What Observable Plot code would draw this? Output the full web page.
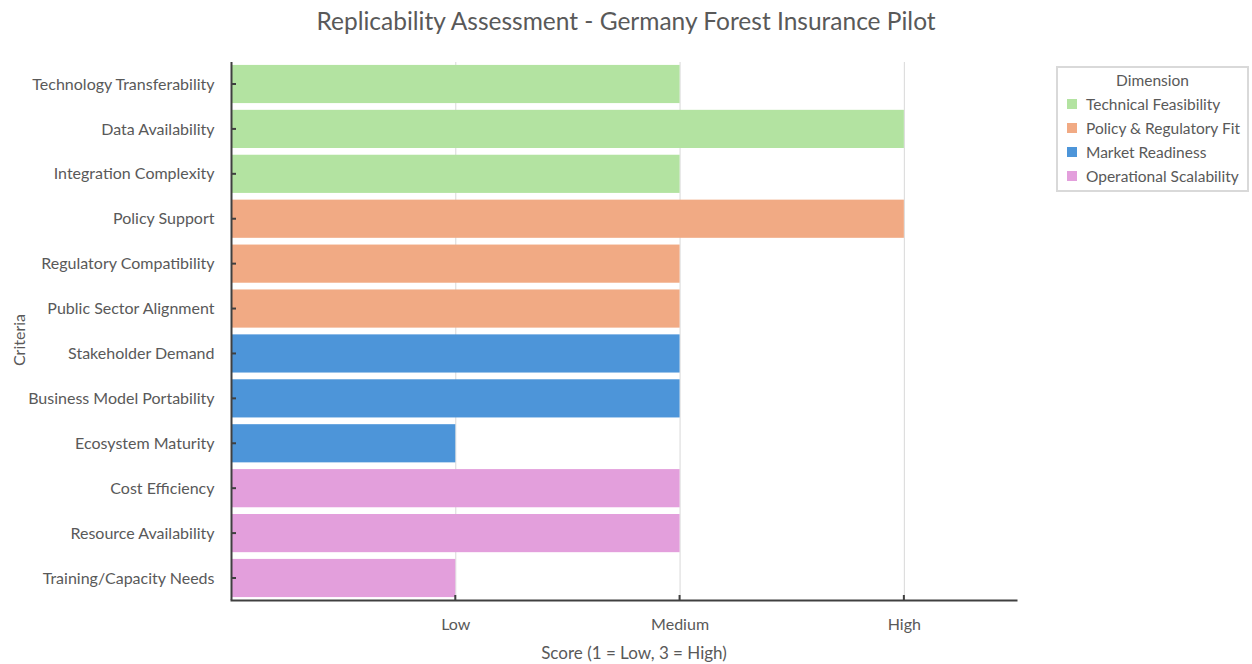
<!DOCTYPE html>
<html>
<head>
<meta charset="utf-8">
<script src="https://cdn.jsdelivr.net/npm/d3@7"></script>
<script src="https://cdn.jsdelivr.net/npm/@observablehq/plot@0.6"></script>
<style>
  html, body { margin: 0; padding: 0; background: #fff; }
  #wrap { position: relative; width: 1252px; height: 664px; font-family: Lato, "Open Sans", sans-serif; color: #595959; }
  #title { position: absolute; left: 0; top: 6px; width: 1252px; text-align: center; font-size: 24.5px; }
  #ylabel { position: absolute; left: 18px; top: 340px; transform: translate(-50%, -50%) rotate(-90deg); font-size: 16px; white-space: nowrap; }
  #xlabel { position: absolute; left: 634px; top: 642px; transform: translateX(-50%); font-size: 17px; white-space: nowrap; }
  #legend { position: absolute; left: 1056px; top: 66px; width: 189px; height: 122px; border: 2px solid #d9d9d9; font-size: 15.5px; }
  #legend .lt { text-align: center; margin-top: 3px; margin-bottom: 3px; }
  #legend .it { display: flex; align-items: center; height: 24px; padding-left: 9px; white-space: nowrap; }
  #legend .sw { width: 10px; height: 10px; margin-right: 9px; flex: none; }
  #chart { position: absolute; left: 0; top: 0; }
</style>
</head>
<body>
<div id="wrap">
  <div id="chart"></div>
  <div id="title">Replicability Assessment - Germany Forest Insurance Pilot</div>
  <div id="ylabel">Criteria</div>
  <div id="xlabel">Score (1 = Low, 3 = High)</div>
  <div id="legend"></div>
</div>
<script>
// Criteria, top to bottom
const criteria = [
  "Technology Transferability",
  "Data Availability",
  "Integration Complexity",
  "Policy Support",
  "Regulatory Compatibility",
  "Public Sector Alignment",
  "Stakeholder Demand",
  "Business Model Portability",
  "Ecosystem Maturity",
  "Cost Efficiency",
  "Resource Availability",
  "Training/Capacity Needs"
];
// Score per criterion (1 = Low, 2 = Medium, 3 = High)
const scores = [2, 3, 2, 3, 2, 2, 2, 2, 1, 2, 2, 1];
// Dimension each criterion belongs to
const dimensionOf = [
  "Technical Feasibility", "Technical Feasibility", "Technical Feasibility",
  "Policy & Regulatory Fit", "Policy & Regulatory Fit", "Policy & Regulatory Fit",
  "Market Readiness", "Market Readiness", "Market Readiness",
  "Operational Scalability", "Operational Scalability", "Operational Scalability"
];
const dimensions = ["Technical Feasibility", "Policy & Regulatory Fit", "Market Readiness", "Operational Scalability"];
const dimensionColors = ["#b3e3a1", "#f1aa84", "#4d95d9", "#e39fdc"];
const tickValues = [1, 2, 3];
const tickLabels = ["Low", "Medium", "High"];

const rows = criteria.map((c, i) => ({criterion: c, score: scores[i], dimension: dimensionOf[i]}));

const chart = Plot.plot({
  width: 1252,
  height: 664,
  marginTop: 62,
  marginBottom: 64,
  marginLeft: 231,
  marginRight: 236,
  style: {fontFamily: "Lato, 'Open Sans', sans-serif", fontSize: "16px", color: "#595959", background: "transparent"},
  x: {domain: [0, 3.5]},
  y: {domain: criteria, paddingInner: 0.15, paddingOuter: 0.065, round: false},
  color: {domain: dimensions, range: dimensionColors},
  marks: [
    Plot.gridX(tickValues, {stroke: "#d9d9d9", strokeOpacity: 1}),
    Plot.barX(rows, {x: "score", y: "criterion", fill: "dimension"}),
    Plot.axisX({ticks: tickValues, tickFormat: d => tickLabels[tickValues.indexOf(d)], tickSize: 0, tickPadding: 18, label: null}),
    Plot.axisY({tickSize: 0, tickPadding: 17, label: null}),
    Plot.ruleX([0], {stroke: "#404040", strokeWidth: 2}),
    Plot.frame({anchor: "bottom", stroke: "#404040", strokeWidth: 2})
  ]
});
document.getElementById("chart").appendChild(chart);

// Short inward tick marks on both axes, positioned via the chart's scales
const sx = chart.scale("x"), sy = chart.scale("y");
const svg = d3.select(chart);
const baseY = 664 - 64;
const g = svg.append("g").attr("stroke", "#404040").attr("stroke-width", 2);
tickValues.forEach(v => {
  const px = sx.apply(v);
  g.append("line").attr("x1", px).attr("x2", px).attr("y1", baseY).attr("y2", baseY - 5);
});
criteria.forEach(c => {
  const py = sy.apply(c) + sy.bandwidth / 2;
  g.append("line").attr("x1", sx.apply(0)).attr("x2", sx.apply(0) + 5).attr("y1", py).attr("y2", py);
});

// Legend
const legend = d3.select("#legend");
legend.append("div").attr("class", "lt").text("Dimension");
dimensions.forEach((d, i) => {
  const it = legend.append("div").attr("class", "it");
  it.append("div").attr("class", "sw").style("background", dimensionColors[i]);
  it.append("span").text(d);
});
</script>
</body>
</html>
